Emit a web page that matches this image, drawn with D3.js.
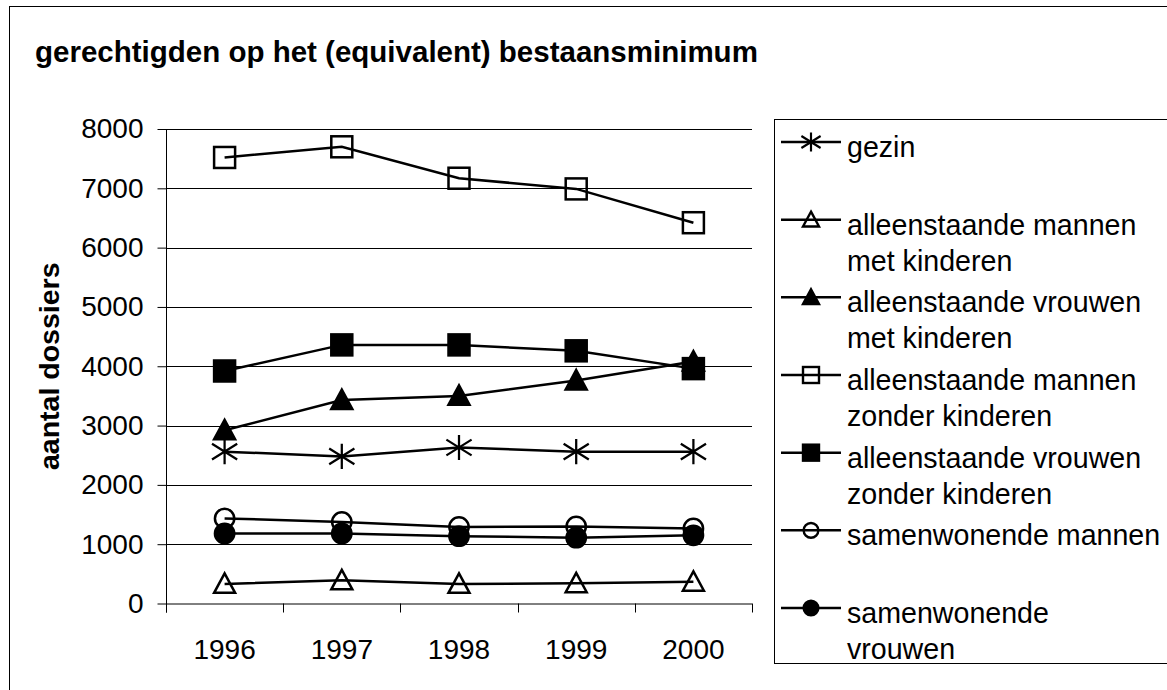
<!DOCTYPE html>
<html>
<head>
<meta charset="utf-8">
<script src="https://cdn.jsdelivr.net/npm/d3@7"></script>
<style>
  html, body { margin: 0; padding: 0; background: #fff; }
  svg { display: block; font-family: Arial, "Liberation Sans", sans-serif; }
</style>
</head>
<body>
<svg id="chart" width="1167" height="690"></svg>
<script>
const years = ["1996", "1997", "1998", "1999", "2000"];
const yTicks = [0, 1000, 2000, 3000, 4000, 5000, 6000, 7000, 8000];

const gezin               = [2560, 2480, 2630, 2560, 2560];
const mannenMetKinderen   = [330, 390, 330, 340, 365];
const vrouwenMetKinderen  = [2920, 3430, 3500, 3760, 4080];
const mannenZonderKinderen = [7520, 7700, 7170, 6990, 6420];
const vrouwenZonderKinderen = [3920, 4360, 4360, 4260, 3960];
const samenwonendeMannen  = [1435, 1375, 1290, 1300, 1265];
const samenwonendeVrouwen = [1180, 1180, 1135, 1110, 1150];

const seriesNames = [
  ["gezin"],
  ["alleenstaande mannen", "met kinderen"],
  ["alleenstaande vrouwen", "met kinderen"],
  ["alleenstaande mannen", "zonder kinderen"],
  ["alleenstaande vrouwen", "zonder kinderen"],
  ["samenwonende mannen"],
  ["samenwonende", "vrouwen"]
];
const seriesValues = [gezin, mannenMetKinderen, vrouwenMetKinderen, mannenZonderKinderen,
  vrouwenZonderKinderen, samenwonendeMannen, samenwonendeVrouwen];
const seriesMarkers = ["star", "triOpen", "triFilled", "sqOpen", "sqFilled", "circOpen", "circFilled"];

const svg = d3.select("#chart");
svg.append("rect").attr("width", 1167).attr("height", 690).attr("fill", "#fff");

// outer frame (clipped at right/bottom)
svg.append("rect").attr("x", 9.5).attr("y", 6.5).attr("width", 1300).attr("height", 800)
  .attr("fill", "none").attr("stroke", "#000").attr("stroke-width", 1);

// title
svg.append("text").attr("x", 35).attr("y", 62)
  .attr("font-size", 29.5).attr("font-weight", "bold").attr("fill", "#000")
  .text("gerechtigden op het (equivalent) bestaansminimum");

const plot = { left: 166, right: 752, top: 129, bottom: 603.5 };
const x = d3.scaleBand().domain(years).range([plot.left, plot.right]);
const y = d3.scaleLinear().domain([0, 8000]).range([plot.bottom, plot.top]);

// gridlines
svg.append("g").selectAll("line").data(yTicks.filter(d => d > 0)).join("line")
  .attr("x1", plot.left).attr("x2", plot.right)
  .attr("y1", d => Math.round(y(d)) + 0.5).attr("y2", d => Math.round(y(d)) + 0.5)
  .attr("stroke", "#000").attr("stroke-width", 1);

// y axis
const yAxis = svg.append("g").attr("transform", `translate(${plot.left + 0.5},0)`)
  .call(d3.axisLeft(y).tickValues(yTicks).tickSize(9).tickPadding(14).tickFormat(d3.format("d")));
yAxis.select(".domain").attr("stroke", "#000").attr("d", `M0,${plot.top}V${plot.bottom + 9}`);
yAxis.selectAll(".tick line").attr("stroke", "#000");
yAxis.selectAll(".tick text").attr("font-size", 28).attr("fill", "#000")
  .attr("font-family", "Arial, 'Liberation Sans', sans-serif");

// x axis
const xAxis = svg.append("g").attr("transform", `translate(0,${plot.bottom})`)
  .call(d3.axisBottom(x).tickSize(0).tickPadding(36));
xAxis.select(".domain").attr("stroke", "#000").attr("d", `M${plot.left},0.5H${plot.right}`);
xAxis.selectAll(".tick text").attr("font-size", 28).attr("fill", "#000")
  .attr("font-family", "Arial, 'Liberation Sans', sans-serif");
// x tick marks at category boundaries
const bounds = years.map(d => x(d)).concat([x(years[years.length - 1]) + x.bandwidth()]);
svg.append("g").selectAll("line").data(bounds).join("line")
  .attr("x1", d => Math.round(d) + 0.5).attr("x2", d => Math.round(d) + 0.5)
  .attr("y1", plot.bottom).attr("y2", plot.bottom + 9)
  .attr("stroke", "#000").attr("stroke-width", 1);

// y axis title
svg.append("text").attr("transform", `translate(59,${(plot.top + plot.bottom) / 2}) rotate(-90)`)
  .attr("text-anchor", "middle").attr("font-size", 28.5).attr("font-weight", "bold")
  .text("aantal dossiers");

function drawMarker(g, type, cx, cy, s, sw) {
  const h = s / 2;
  if (type === "star") {
    const w = h * 1.2, v = h * 1.2, d = h * 0.75;
    g.append("path").attr("d",
      `M${cx - w},${cy - d}L${cx + w},${cy + d}` +
      `M${cx - w},${cy + d}L${cx + w},${cy - d}` +
      `M${cx},${cy - v}L${cx},${cy + v}`)
      .attr("stroke", "#000").attr("stroke-width", sw * 0.9).attr("fill", "none");
  } else if (type === "triOpen" || type === "triFilled") {
    const filled = type === "triFilled";
    g.append("path").attr("d", `M${cx},${cy - h}L${cx + h},${cy + h * 0.85}L${cx - h},${cy + h * 0.85}Z`)
      .attr("stroke", "#000").attr("stroke-width", sw).attr("stroke-linejoin", "miter")
      .attr("fill", filled ? "#000" : "none");
  } else if (type === "sqOpen" || type === "sqFilled") {
    const filled = type === "sqFilled";
    g.append("rect").attr("x", cx - h).attr("y", cy - h).attr("width", s).attr("height", s)
      .attr("stroke", "#000").attr("stroke-width", sw).attr("fill", filled ? "#000" : "none");
  } else {
    const filled = type === "circFilled";
    g.append("circle").attr("cx", cx).attr("cy", cy).attr("r", h * 0.92)
      .attr("stroke", "#000").attr("stroke-width", sw).attr("fill", filled ? "#000" : "none");
  }
}

const line = d3.line().x((d, i) => x(years[i]) + x.bandwidth() / 2).y(d => y(d));
seriesValues.forEach((vals, si) => {
  const g = svg.append("g");
  g.append("path").datum(vals).attr("d", line)
    .attr("fill", "none").attr("stroke", "#000").attr("stroke-width", 2.5);
  vals.forEach((v, i) => drawMarker(g, seriesMarkers[si], x(years[i]) + x.bandwidth() / 2, y(v), 21, 2.5));
});

// legend
const leg = { left: 774.5, top: 119.5, bottom: 663.5 };
svg.append("rect").attr("x", leg.left).attr("y", leg.top).attr("width", 600)
  .attr("height", leg.bottom - leg.top).attr("fill", "none").attr("stroke", "#000").attr("stroke-width", 1);
const legRow = d3.scaleLinear().domain([0, 6]).range([142, 608]);
seriesNames.forEach((lines, si) => {
  const cy = legRow(si);
  const g = svg.append("g");
  g.append("line").attr("x1", 781).attr("x2", 841).attr("y1", cy).attr("y2", cy)
    .attr("stroke", "#000").attr("stroke-width", 2.5);
  drawMarker(g, seriesMarkers[si], 811, cy, 16, 2.4);
  lines.forEach((t, li) => {
    g.append("text").attr("x", 847).attr("y", cy + 15 + li * 36)
      .attr("font-size", 28.6).attr("fill", "#000").text(t);
  });
});
</script>
</body>
</html>
